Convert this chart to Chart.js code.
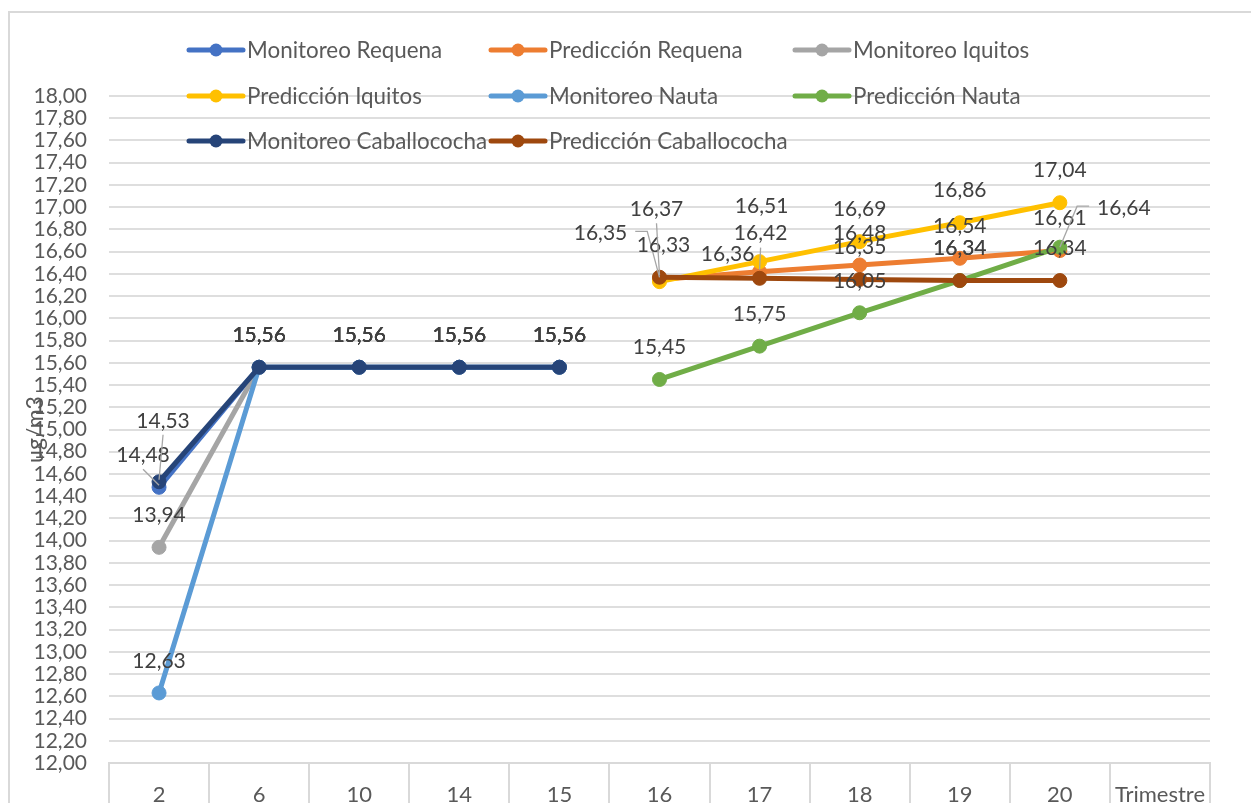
<!DOCTYPE html>
<html>
<head>
<meta charset="utf-8">
<script src="https://cdn.jsdelivr.net/npm/chart.js@4.4.1/dist/chart.umd.min.js"></script>
<style>
  html, body { margin: 0; padding: 0; background: #fff; overflow: hidden; }
  #wrap { width: 1251px; height: 830px; }
</style>
</head>
<body>
<div id="wrap"><canvas id="chart" width="1251" height="830"></canvas></div>
<script>
// Categories on the x axis (last one is just the axis caption slot)
const trimestres = ['2', '6', '10', '14', '15', '16', '17', '18', '19', '20', 'Trimestre'];

// Series values (ug/m3)
const monitoreoRequena      = [14.48, 15.56, 15.56, 15.56, 15.56, null, null, null, null, null, null];
const prediccionRequena     = [null, null, null, null, null, 16.35, 16.42, 16.48, 16.54, 16.61, null];
const monitoreoIquitos      = [13.94, 15.56, 15.56, 15.56, 15.56, null, null, null, null, null, null];
const prediccionIquitos     = [null, null, null, null, null, 16.33, 16.51, 16.69, 16.86, 17.04, null];
const monitoreoNauta        = [12.63, 15.56, 15.56, 15.56, 15.56, null, null, null, null, null, null];
const prediccionNauta       = [null, null, null, null, null, 15.45, 15.75, 16.05, 16.34, 16.64, null];
const monitoreoCaballococha = [14.53, 15.56, 15.56, 15.56, 15.56, null, null, null, null, null, null];
const prediccionCaballococha= [null, null, null, null, null, 16.37, 16.36, 16.35, 16.34, 16.34, null];

const seriesNames = ['Monitoreo Requena', 'Predicción Requena', 'Monitoreo Iquitos', 'Predicción Iquitos',
  'Monitoreo Nauta', 'Predicción Nauta', 'Monitoreo Caballococha', 'Predicción Caballococha'];
const seriesData = [monitoreoRequena, prediccionRequena, monitoreoIquitos, prediccionIquitos,
  monitoreoNauta, prediccionNauta, monitoreoCaballococha, prediccionCaballococha];
const seriesColors = ['#4472C4', '#ED7D31', '#A5A5A5', '#FFC000', '#5B9BD5', '#70AD47', '#264478', '#9E480E'];

// y axis range
const yMin = 12, yMax = 18, yStep = 0.2;

const FONT = 'Lato, "Open Sans", sans-serif';
const fmt = v => v.toFixed(2).replace('.', ',');

// data label placement tweaks (series:point), the rest sit right above the marker
const defaultOffset = { dx: 0, dy: -32 };
const labelOffsets = {
  '0:0': { dx: -16, dy: -32, leader: 'v' },
  '6:0': { dx: 4, dy: -61, leader: 'v' },
  '1:5': { dx: -59, dy: -46, leader: 'left' },
  '3:5': { dx: 4, dy: -36 },
  '7:5': { dx: -3, dy: -68, leader: 'v' },
  '7:6': { dx: -32, dy: -24 },
  '1:6': { dx: 1, dy: -38, leader: 'v' },
  '3:6': { dx: 2, dy: -55 },
  '5:9': { dx: 64, dy: -39, leader: 'right' }
};

const framePlugin = {
  id: 'frame',
  beforeDraw(chart) {
    const ctx = chart.ctx;
    ctx.save();
    ctx.fillStyle = '#fff';
    ctx.fillRect(0, 0, chart.width, chart.height);
    ctx.strokeStyle = '#d9d9d9';
    ctx.lineWidth = 2;
    ctx.strokeRect(9, 12, 1400, 1000);
    ctx.restore();
  }
};

const valueLabels = {
  id: 'valueLabels',
  afterDatasetsDraw(chart) {
    const ctx = chart.ctx;
    ctx.save();
    ctx.font = '21px ' + FONT;
    ctx.textAlign = 'center';
    ctx.textBaseline = 'middle';
    chart.data.datasets.forEach((ds, di) => {
      const meta = chart.getDatasetMeta(di);
      meta.data.forEach((pt, i) => {
        const v = ds.data[i];
        if (v === null || v === undefined) return;
        const off = labelOffsets[di + ':' + i] || defaultOffset;
        const lx = pt.x + off.dx, ly = pt.y + off.dy;
        const text = fmt(v);
        const w = ctx.measureText(text).width;
        if (off.leader) {
          ctx.strokeStyle = '#a6a6a6';
          ctx.lineWidth = 1.3;
          ctx.beginPath();
          if (off.leader === 'v') {
            ctx.moveTo(lx, ly + 14);
            ctx.lineTo(pt.x, pt.y - 2);
          } else if (off.leader === 'left') {
            ctx.moveTo(lx + w / 2 + 8, ly - 2);
            ctx.lineTo(lx + w / 2 + 20, ly - 2);
            ctx.lineTo(pt.x, pt.y - 2);
          } else {
            ctx.moveTo(lx - w / 2 - 8, ly - 2);
            ctx.lineTo(lx - w / 2 - 20, ly - 2);
            ctx.lineTo(pt.x, pt.y);
          }
          ctx.stroke();
        }
        ctx.fillStyle = '#404040';
        ctx.fillText(text, lx, ly);
      });
    });
    ctx.restore();
  }
};

// legend laid out in a 3 column grid like the original
const legendGrid = {
  id: 'legendGrid',
  afterDraw(chart) {
    const ctx = chart.ctx;
    const cols = [187, 489, 793];
    const rows = [50, 96, 141];
    ctx.save();
    ctx.font = '22.4px ' + FONT;
    ctx.textBaseline = 'middle';
    ctx.textAlign = 'left';
    seriesNames.forEach((name, i) => {
      const x = cols[i % 3], y = rows[Math.floor(i / 3)];
      ctx.strokeStyle = seriesColors[i];
      ctx.fillStyle = seriesColors[i];
      ctx.lineWidth = 5;
      ctx.lineCap = 'round';
      ctx.beginPath();
      ctx.moveTo(x + 2, y);
      ctx.lineTo(x + 56, y);
      ctx.stroke();
      ctx.beginPath();
      ctx.arc(x + 29, y, 6.5, 0, Math.PI * 2);
      ctx.fill();
      ctx.fillStyle = '#595959';
      ctx.fillText(name, x + 60, y + 1);
    });
    ctx.restore();
  }
};

const yTitle = {
  id: 'yTitle',
  afterDraw(chart) {
    const ctx = chart.ctx;
    const a = chart.chartArea;
    ctx.save();
    ctx.translate(36, (a.top + a.bottom) / 2);
    ctx.rotate(-Math.PI / 2);
    ctx.font = '23px ' + FONT;
    ctx.fillStyle = '#595959';
    ctx.textAlign = 'center';
    ctx.textBaseline = 'middle';
    ctx.fillText('ug/m3', 0, 0);
    ctx.restore();
  }
};

const datasets = seriesNames.map((name, i) => ({
  label: name,
  data: seriesData[i],
  borderColor: seriesColors[i],
  backgroundColor: seriesColors[i],
  pointBackgroundColor: seriesColors[i],
  pointBorderColor: seriesColors[i],
  pointRadius: 7,
  pointBorderWidth: 1,
  borderWidth: 5,
  tension: 0,
  spanGaps: false,
  order: 7 - i
}));

const ctx = document.getElementById('chart').getContext('2d');
new Chart(ctx, {
  type: 'line',
  data: { labels: trimestres, datasets: datasets },
  options: {
    responsive: false,
    animation: false,
    layout: { padding: { top: 96, right: 41, left: 0, bottom: 0 } },
    plugins: {
      legend: { display: false },
      tooltip: { enabled: false }
    },
    scales: {
      x: {
        type: 'category',
        offset: true,
        afterFit: s => { s.height = 67; },
        grid: {
          offset: true,
          drawOnChartArea: false,
          drawTicks: true,
          tickLength: 67,
          color: '#d9d9d9',
          lineWidth: 2
        },
        border: { display: true, color: '#d9d9d9', width: 2 },
        ticks: {
          autoSkip: false,
          maxRotation: 0,
          padding: -48,
          color: '#595959',
          font: { family: FONT, size: 22 }
        }
      },
      y: {
        min: yMin,
        max: yMax,
        afterFit: s => { s.width = 109; },
        grid: { color: '#dedede', lineWidth: 2, drawTicks: false },
        border: { display: false },
        ticks: {
          stepSize: yStep,
          autoSkip: false,
          padding: 22,
          color: '#595959',
          font: { family: FONT, size: 21 },
          callback: v => fmt(v)
        }
      }
    }
  },
  plugins: [framePlugin, valueLabels, legendGrid, yTitle]
});
</script>
</body>
</html>
